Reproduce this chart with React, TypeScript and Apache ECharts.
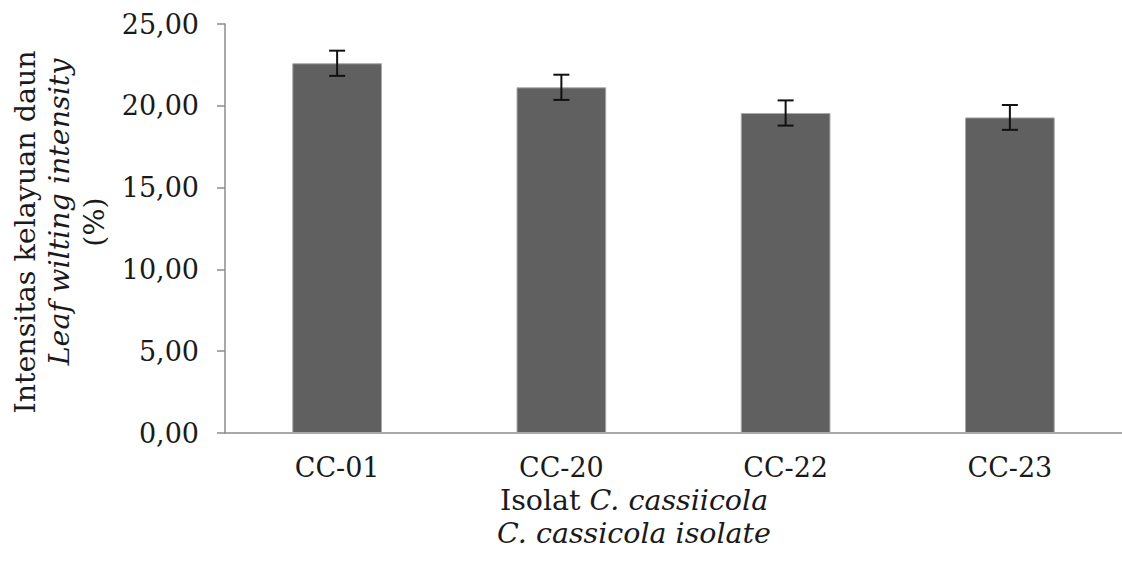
import React, { useEffect, useRef } from "react";
import * as echarts from "echarts";

const categories = ["CC-01", "CC-20", "CC-22", "CC-23"];
const values = [22.6, 21.13, 19.56, 19.29];
const errors = [0.77, 0.77, 0.77, 0.76];
const yTicks = { min: 0, max: 25, interval: 5 };

const FONT = "'DejaVu Serif', 'Liberation Serif', serif";
const TITLE_SIZE = 28.5;

export default function App() {
  const ref = useRef<HTMLDivElement>(null);
  useEffect(() => {
    if (!ref.current) return;
    const chart = echarts.init(ref.current, undefined, { renderer: "svg" });
    const errData = categories.map((c, i) => [i, values[i] - errors[i], values[i] + errors[i]]);
    chart.setOption({
      animation: false,
      backgroundColor: "#ffffff",
      grid: { left: 225, right: -7, top: 24, bottom: 130 },
      xAxis: {
        type: "category",
        data: categories,
        axisLine: { lineStyle: { color: "#8c8c8c", width: 1.5 } },
        axisTick: { show: false },
        axisLabel: { color: "#1a1a1a", fontFamily: FONT, fontSize: 27, margin: 21 },
      },
      yAxis: {
        type: "value",
        min: yTicks.min,
        max: yTicks.max,
        interval: yTicks.interval,
        splitLine: { show: false },
        axisLine: { show: true, lineStyle: { color: "#8c8c8c", width: 1.5 } },
        axisTick: { show: true, length: 8, lineStyle: { color: "#8c8c8c", width: 1.5 } },
        axisLabel: {
          color: "#1a1a1a",
          fontFamily: FONT,
          fontSize: 27,
          margin: 26,
          formatter: (v: number) => v.toFixed(2).replace(".", ","),
        },
      },
      graphic: [
        {
          type: "text",
          x: 25,
          y: 232,
          rotation: Math.PI / 2,
          style: {
            text: "Intensitas kelayuan daun",
            fontFamily: FONT,
            fontSize: TITLE_SIZE,
            fill: "#1a1a1a",
            align: "center",
            verticalAlign: "middle",
          },
        },
        {
          type: "text",
          x: 59,
          y: 212,
          rotation: Math.PI / 2,
          style: {
            text: "Leaf wilting intensity",
            fontFamily: FONT,
            fontStyle: "italic",
            fontSize: TITLE_SIZE,
            fill: "#1a1a1a",
            align: "center",
            verticalAlign: "middle",
          },
        },
        {
          type: "text",
          x: 94,
          y: 222,
          rotation: Math.PI / 2,
          style: {
            text: "(%)",
            fontFamily: FONT,
            fontSize: TITLE_SIZE,
            fill: "#1a1a1a",
            align: "center",
            verticalAlign: "middle",
          },
        },
        {
          type: "text",
          x: 634,
          y: 500,
          style: {
            text: "{n|Isolat }{i|C. cassiicola}",
            align: "center",
            verticalAlign: "middle",
            rich: {
              n: { fontFamily: FONT, fontSize: TITLE_SIZE, fill: "#1a1a1a" },
              i: { fontFamily: FONT, fontSize: TITLE_SIZE, fontStyle: "italic", fill: "#1a1a1a" },
            },
          },
        },
        {
          type: "text",
          x: 634,
          y: 533,
          style: {
            text: "C. cassicola isolate",
            fontFamily: FONT,
            fontStyle: "italic",
            fontSize: TITLE_SIZE,
            fill: "#1a1a1a",
            align: "center",
            verticalAlign: "middle",
          },
        },
      ],
      series: [
        {
          type: "bar",
          data: values,
          barWidth: "40%",
          itemStyle: { color: "#606060", borderColor: "#a8a8a8", borderWidth: 1 },
        },
        {
          type: "custom",
          data: errData,
          z: 10,
          renderItem: (params: any, api: any) => {
            const x = api.value(0);
            const lo = api.coord([x, api.value(1)]);
            const hi = api.coord([x, api.value(2)]);
            const w = 8;
            const style = { stroke: "#111111", lineWidth: 2 };
            return {
              type: "group",
              children: [
                { type: "line", shape: { x1: lo[0], y1: lo[1], x2: hi[0], y2: hi[1] }, style },
                { type: "line", shape: { x1: hi[0] - w, y1: hi[1], x2: hi[0] + w, y2: hi[1] }, style },
                { type: "line", shape: { x1: lo[0] - w, y1: lo[1], x2: lo[0] + w, y2: lo[1] }, style },
              ],
            };
          },
        },
      ],
    });
    return () => chart.dispose();
  }, []);
  return (
    <div
      ref={ref}
      style={{ position: "fixed", left: 0, top: 0, width: 1122, height: 563, background: "#fff" }}
    />
  );
}
